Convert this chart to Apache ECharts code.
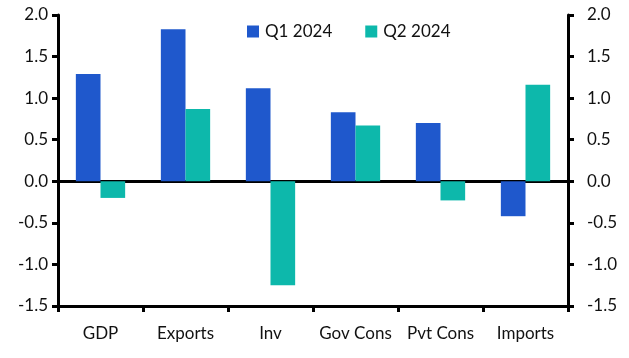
<!DOCTYPE html>
<html>
<head>
<meta charset="utf-8">
<script src="https://cdn.jsdelivr.net/npm/echarts@6/dist/echarts.min.js"></script>
<style>html,body{margin:0;padding:0;background:#fff}#c{width:629px;height:358px}</style>
</head>
<body>
<div id="c"></div>
<script>
var categories = ['GDP', 'Exports', 'Inv', 'Gov Cons', 'Pvt Cons', 'Imports'];
var seriesNames = ['Q1 2024', 'Q2 2024'];
var q1Values = [1.29, 1.83, 1.12, 0.83, 0.70, -0.42];
var q2Values = [-0.20, 0.87, -1.25, 0.67, -0.23, 1.16];
var yTicks = { min: -1.5, max: 2.0, interval: 0.5 };

var FONT = 'Lato';
var BLACK = '#000';
var chart = echarts.init(document.getElementById('c'), null, { renderer: 'canvas' });

function yAxisDef(pos, margin) {
  return {
    type: 'value', position: pos,
    min: yTicks.min, max: yTicks.max, interval: yTicks.interval,
    axisLine: { show: true, lineStyle: { color: BLACK, width: 3 } },
    axisTick: { show: true, length: 6, lineStyle: { color: BLACK, width: 3 } },
    splitLine: { show: false },
    axisLabel: {
      margin: margin, color: '#111', fontFamily: FONT, fontSize: 17,
      formatter: function (v) { return v.toFixed(1); }
    }
  };
}

chart.setOption({
  animation: false,
  color: ['#1f58cc', '#0db8ab'],
  grid: { left: 58, right: 61, top: 15, bottom: 52, containLabel: false },
  legend: {
    data: seriesNames, top: 18, left: 242,
    itemWidth: 12, itemHeight: 12, itemGap: 33, icon: 'rect',
    textStyle: { fontFamily: FONT, fontSize: 17, color: '#111', padding: [0, 0, 0, 1] }
  },
  xAxis: [{
    type: 'category', data: categories, position: 'bottom',
    axisLine: { onZero: false, lineStyle: { color: BLACK, width: 3 } },
    axisTick: { show: true, length: 6, lineStyle: { color: BLACK, width: 3 } },
    axisLabel: { margin: 19, color: '#111', fontFamily: FONT, fontSize: 17, interval: 0 }
  }, {
    type: 'category', data: categories, position: 'bottom',
    axisLine: { onZero: true, onZeroAxisIndex: 0, lineStyle: { color: BLACK, width: 3 } },
    axisTick: { show: false }, axisLabel: { show: false }
  }],
  yAxis: [yAxisDef('left', 10), yAxisDef('right', 19)],
  series: [{
    name: seriesNames[0], type: 'bar', data: q1Values,
    barGap: '0%', barCategoryGap: '42%', z: 1
  }, {
    name: seriesNames[1], type: 'bar', data: q2Values,
    barGap: '0%', barCategoryGap: '42%', z: 1
  }]
});
</script>
</body>
</html>
